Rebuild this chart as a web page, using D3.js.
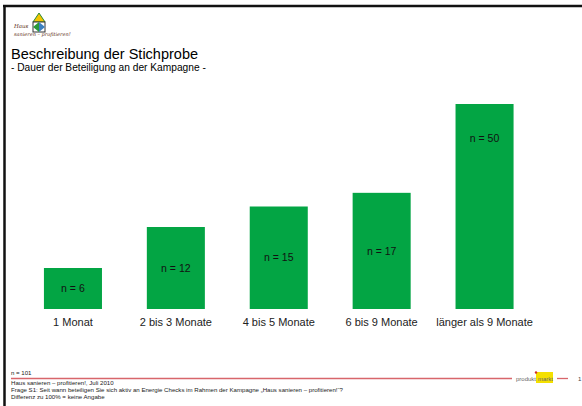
<!DOCTYPE html>
<html>
<head>
<meta charset="utf-8">
<script src="https://cdn.jsdelivr.net/npm/d3@7"></script>
<style>
  html, body { margin: 0; padding: 0; background: #fff; }
  svg { display: block; font-family: "Liberation Sans", Arial, sans-serif; }
</style>
</head>
<body>
<script>
// data
const categories = ["1 Monat", "2 bis 3 Monate", "4 bis 5 Monate", "6 bis 9 Monate", "länger als 9 Monate"];
const barValues = [6, 12, 15, 17, 30];   // drawn bar heights (last bar is shortened on the slide)
const nValues = [6, 12, 15, 17, 50];     // labels inside the bars
const footerLines = [
  "Haus sanieren – profitieren!, Juli 2010",
  "Frage S1: Seit wann beteiligen Sie sich aktiv an Energie Checks im Rahmen der Kampagne „Haus sanieren – profitieren!“?",
  "Differenz zu 100% = keine Angabe"
];

const width = 582, height = 406;
const green = "#03a544";

const svg = d3.select("body").append("svg")
  .attr("width", width)
  .attr("height", height);

// slide frame (top and left edges only visible)
svg.append("line").attr("x1", 3).attr("x2", width).attr("y1", 6).attr("y2", 6)
  .attr("stroke", "#111").attr("stroke-width", 2.5);
svg.append("line").attr("x1", 4.5).attr("x2", 4.5).attr("y1", 5).attr("y2", height)
  .attr("stroke", "#111").attr("stroke-width", 2.5);

// little house logo
const logo = svg.append("g");
logo.append("path").attr("d", "M39,13 L45,22 L33,22 Z")
  .attr("fill", "#f2c500").attr("stroke", "#2a8a3a").attr("stroke-width", 1);
logo.append("rect").attr("x", 33).attr("y", 22).attr("width", 12).attr("height", 10)
  .attr("fill", "#fff").attr("stroke", "#333").attr("stroke-width", 1);
logo.append("path").attr("d", "M39,22 L33,27 L39,32 Z").attr("fill", "#2a9a3a");
logo.append("path").attr("d", "M39,22 L45,27 L39,32 Z").attr("fill", "#3a7fc0");
logo.append("text").attr("x", 14).attr("y", 28)
  .style("font-family", "'DejaVu Serif', serif").style("font-style", "italic")
  .style("font-size", "5.5px").attr("fill", "#5a2a10").text("Haus");
logo.append("text").attr("x", 14).attr("y", 35.5)
  .style("font-family", "'DejaVu Serif', serif").style("font-style", "italic")
  .style("font-size", "5px").attr("fill", "#5a2a10").text("sanieren – profitieren!");

// titles
svg.append("text").attr("x", 11).attr("y", 58.8)
  .style("font-size", "14.5px").attr("fill", "#000").text("Beschreibung der Stichprobe");
svg.append("text").attr("x", 11).attr("y", 71.3)
  .style("font-size", "10.2px").attr("fill", "#000").text("- Dauer der Beteiligung an der Kampagne -");

// scales
const x = d3.scaleBand()
  .domain(categories)
  .range([21.5, 536])
  .paddingInner(0.436)
  .paddingOuter(0.218);

const y = d3.scaleLinear()
  .domain([0, 30])
  .range([309, 104]);

const data = categories.map((c, i) => ({ cat: c, value: barValues[i], n: nValues[i] }));

// bars
svg.append("g")
  .selectAll("rect")
  .data(data)
  .enter()
  .append("rect")
  .attr("x", d => x(d.cat))
  .attr("y", d => y(d.value))
  .attr("width", x.bandwidth())
  .attr("height", d => y(0) - y(d.value))
  .attr("fill", green);

// n labels inside bars
svg.append("g")
  .selectAll("text")
  .data(data)
  .enter()
  .append("text")
  .attr("x", d => x(d.cat) + x.bandwidth() / 2)
  .attr("y", d => d.value > 20 ? y(d.value) + 34 : y(d.value / 2))
  .attr("dy", "0.35em")
  .attr("text-anchor", "middle")
  .style("font-size", "10.5px")
  .attr("fill", "#111")
  .text(d => "n = " + d.n);

// category axis (labels only)
const xAxis = svg.append("g")
  .attr("transform", "translate(0," + y(0) + ")")
  .call(d3.axisBottom(x).tickSize(0).tickPadding(17));
xAxis.select(".domain").remove();
xAxis.selectAll("text")
  .attr("dy", 0)
  .style("font-family", "'Liberation Sans', Arial, sans-serif")
  .style("font-size", "11px")
  .attr("fill", "#222");

// footer
svg.append("text").attr("x", 11).attr("y", 375)
  .style("font-size", "6.1px").attr("fill", "#222").text("n = 101");
svg.append("line").attr("x1", 11).attr("x2", 512).attr("y1", 378.5).attr("y2", 378.5)
  .attr("stroke", "#d8666b").attr("stroke-width", 1.3);
svg.append("line").attr("x1", 557).attr("x2", 568).attr("y1", 378.5).attr("y2", 378.5)
  .attr("stroke", "#d8666b").attr("stroke-width", 1.3);

svg.append("g")
  .selectAll("text")
  .data(footerLines)
  .enter()
  .append("text")
  .attr("x", 11)
  .attr("y", (d, i) => 385.2 + i * 7)
  .style("font-size", "6.1px")
  .attr("fill", "#222")
  .text(d => d);

// produkt markt badge
const pm = svg.append("g");
pm.append("rect").attr("x", 536).attr("y", 372).attr("width", 17).attr("height", 11)
  .attr("fill", "#f4e000");
pm.append("circle").attr("cx", 536).attr("cy", 372.5).attr("r", 1.2).attr("fill", "#d0302a");
pm.append("text").attr("x", 516).attr("y", 381)
  .style("font-size", "6px").attr("fill", "#666").text("produkt");
pm.append("text").attr("x", 538).attr("y", 381)
  .style("font-size", "6px").attr("fill", "#666").text("markt");

svg.append("text").attr("x", 578).attr("y", 381)
  .style("font-size", "6.1px").attr("fill", "#444").text("1");
</script>
</body>
</html>
